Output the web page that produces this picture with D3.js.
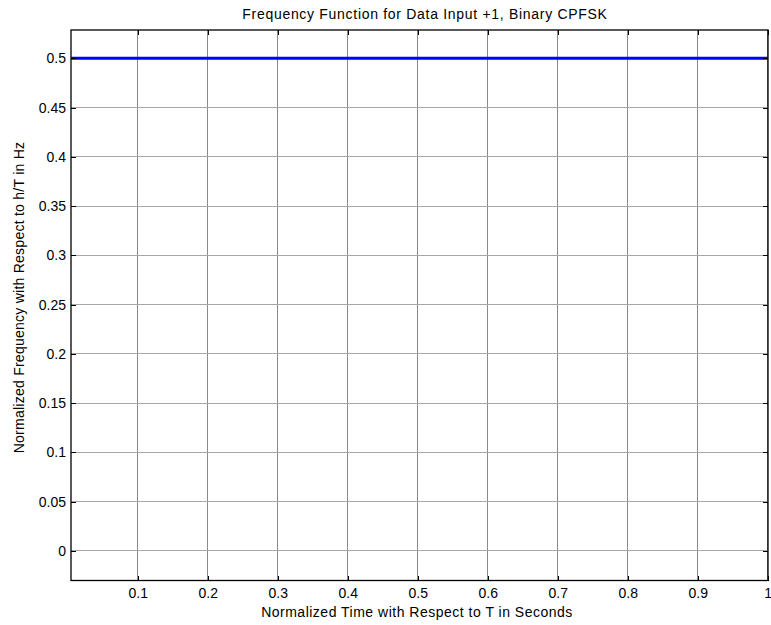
<!DOCTYPE html>
<html>
<head>
<meta charset="utf-8">
<script src="https://cdn.jsdelivr.net/npm/d3@7"></script>
<style>
  html, body { margin: 0; padding: 0; background: #fff; }
  svg { display: block; font-family: "Liberation Sans", Arial, sans-serif; }
</style>
</head>
<body>
<svg id="chart" width="771" height="625"></svg>
<script>
// Frequency pulse for a +1 input symbol: constant h/(2T) across the symbol interval
const timeValues = [0.005, 0.25, 0.5, 0.75, 1.0];
const freqValues = [0.5, 0.5, 0.5, 0.5, 0.5];
const xTicks = [0.1, 0.2, 0.3, 0.4, 0.5, 0.6, 0.7, 0.8, 0.9, 1];
const yTicks = [0, 0.05, 0.1, 0.15, 0.2, 0.25, 0.3, 0.35, 0.4, 0.45, 0.5];
const xDomain = [0.0047, 1.0004];
const yDomain = [-0.0301, 0.5287];

const titleText = "Frequency Function for Data Input +1, Binary CPFSK";
const xLabelText = "Normalized Time with Respect to T in Seconds";
const yLabelText = "Normalized Frequency with Respect to h/T in Hz";

const svg = d3.select("#chart");
const plotLeft = 71, plotRight = 768, plotTop = 30, plotBottom = 580.5;
const fontSize = "14px";

const x = d3.scaleLinear().domain(xDomain).range([plotLeft, plotRight]);
const y = d3.scaleLinear().domain(yDomain).range([plotBottom, plotTop]);

// Grid lines
const grid = svg.append("g");
grid.selectAll("line.gx").data(xTicks).join("line")
  .attr("class", "gx")
  .attr("x1", d => x(d)).attr("x2", d => x(d))
  .attr("y1", plotTop).attr("y2", plotBottom)
  .attr("stroke", "#8a8a8a").attr("stroke-width", 1).attr("shape-rendering", "crispEdges");
grid.selectAll("line.gy").data(yTicks).join("line")
  .attr("class", "gy")
  .attr("x1", plotLeft).attr("x2", plotRight)
  .attr("y1", d => y(d)).attr("y2", d => y(d))
  .attr("stroke", "#a8a8a8").attr("stroke-width", 1).attr("shape-rendering", "crispEdges");

// Data line
const line = d3.line().x((d, i) => x(timeValues[i])).y(d => y(d));
svg.append("path")
  .datum(freqValues)
  .attr("d", line)
  .attr("fill", "none")
  .attr("stroke", "#0000ff")
  .attr("stroke-width", 3);

// Axes with inward ticks
const tickSize = 5;
const xBottom = d3.axisBottom(x).tickValues(xTicks).tickSize(-tickSize).tickPadding(8)
  .tickFormat(d3.format("~g"));
const xTop = d3.axisTop(x).tickValues(xTicks).tickSize(-tickSize).tickFormat("");
const yLeft = d3.axisLeft(y).tickValues(yTicks).tickSize(-tickSize).tickPadding(5)
  .tickFormat(d3.format("~g"));
const yRight = d3.axisRight(y).tickValues(yTicks).tickSize(-tickSize).tickFormat("");

function styleAxis(g) {
  g.select(".domain").remove();
  g.selectAll(".tick line").attr("stroke", "#000").attr("shape-rendering", "crispEdges");
  g.selectAll(".tick text").attr("fill", "#000").style("font-size", fontSize)
    .style("font-family", "'Liberation Sans', Arial, sans-serif");
}

svg.append("g").attr("transform", `translate(0,${plotBottom})`).call(xBottom).call(styleAxis);
svg.append("g").attr("transform", `translate(0,${plotTop})`).call(xTop).call(styleAxis);
svg.append("g").attr("transform", `translate(${plotLeft},0)`).call(yLeft).call(styleAxis);
svg.append("g").attr("transform", `translate(${plotRight},0)`).call(yRight).call(styleAxis);

// Box
svg.append("rect")
  .attr("x", plotLeft).attr("y", plotTop)
  .attr("width", plotRight - plotLeft).attr("height", plotBottom - plotTop)
  .attr("fill", "none").attr("stroke", "#000").attr("stroke-width", 1.3);

// Title and labels
svg.append("text")
  .attr("x", 425).attr("y", 19)
  .attr("text-anchor", "middle").style("font-size", fontSize)
  .style("letter-spacing", "0.7px")
  .text(titleText);
svg.append("text")
  .attr("x", 417).attr("y", 617)
  .attr("text-anchor", "middle").style("font-size", fontSize)
  .style("letter-spacing", "0.5px")
  .text(xLabelText);
svg.append("text")
  .attr("transform", `translate(24,297.5) rotate(-90)`)
  .attr("text-anchor", "middle").style("font-size", fontSize)
  .style("letter-spacing", "0.25px")
  .text(yLabelText);
</script>
</body>
</html>
